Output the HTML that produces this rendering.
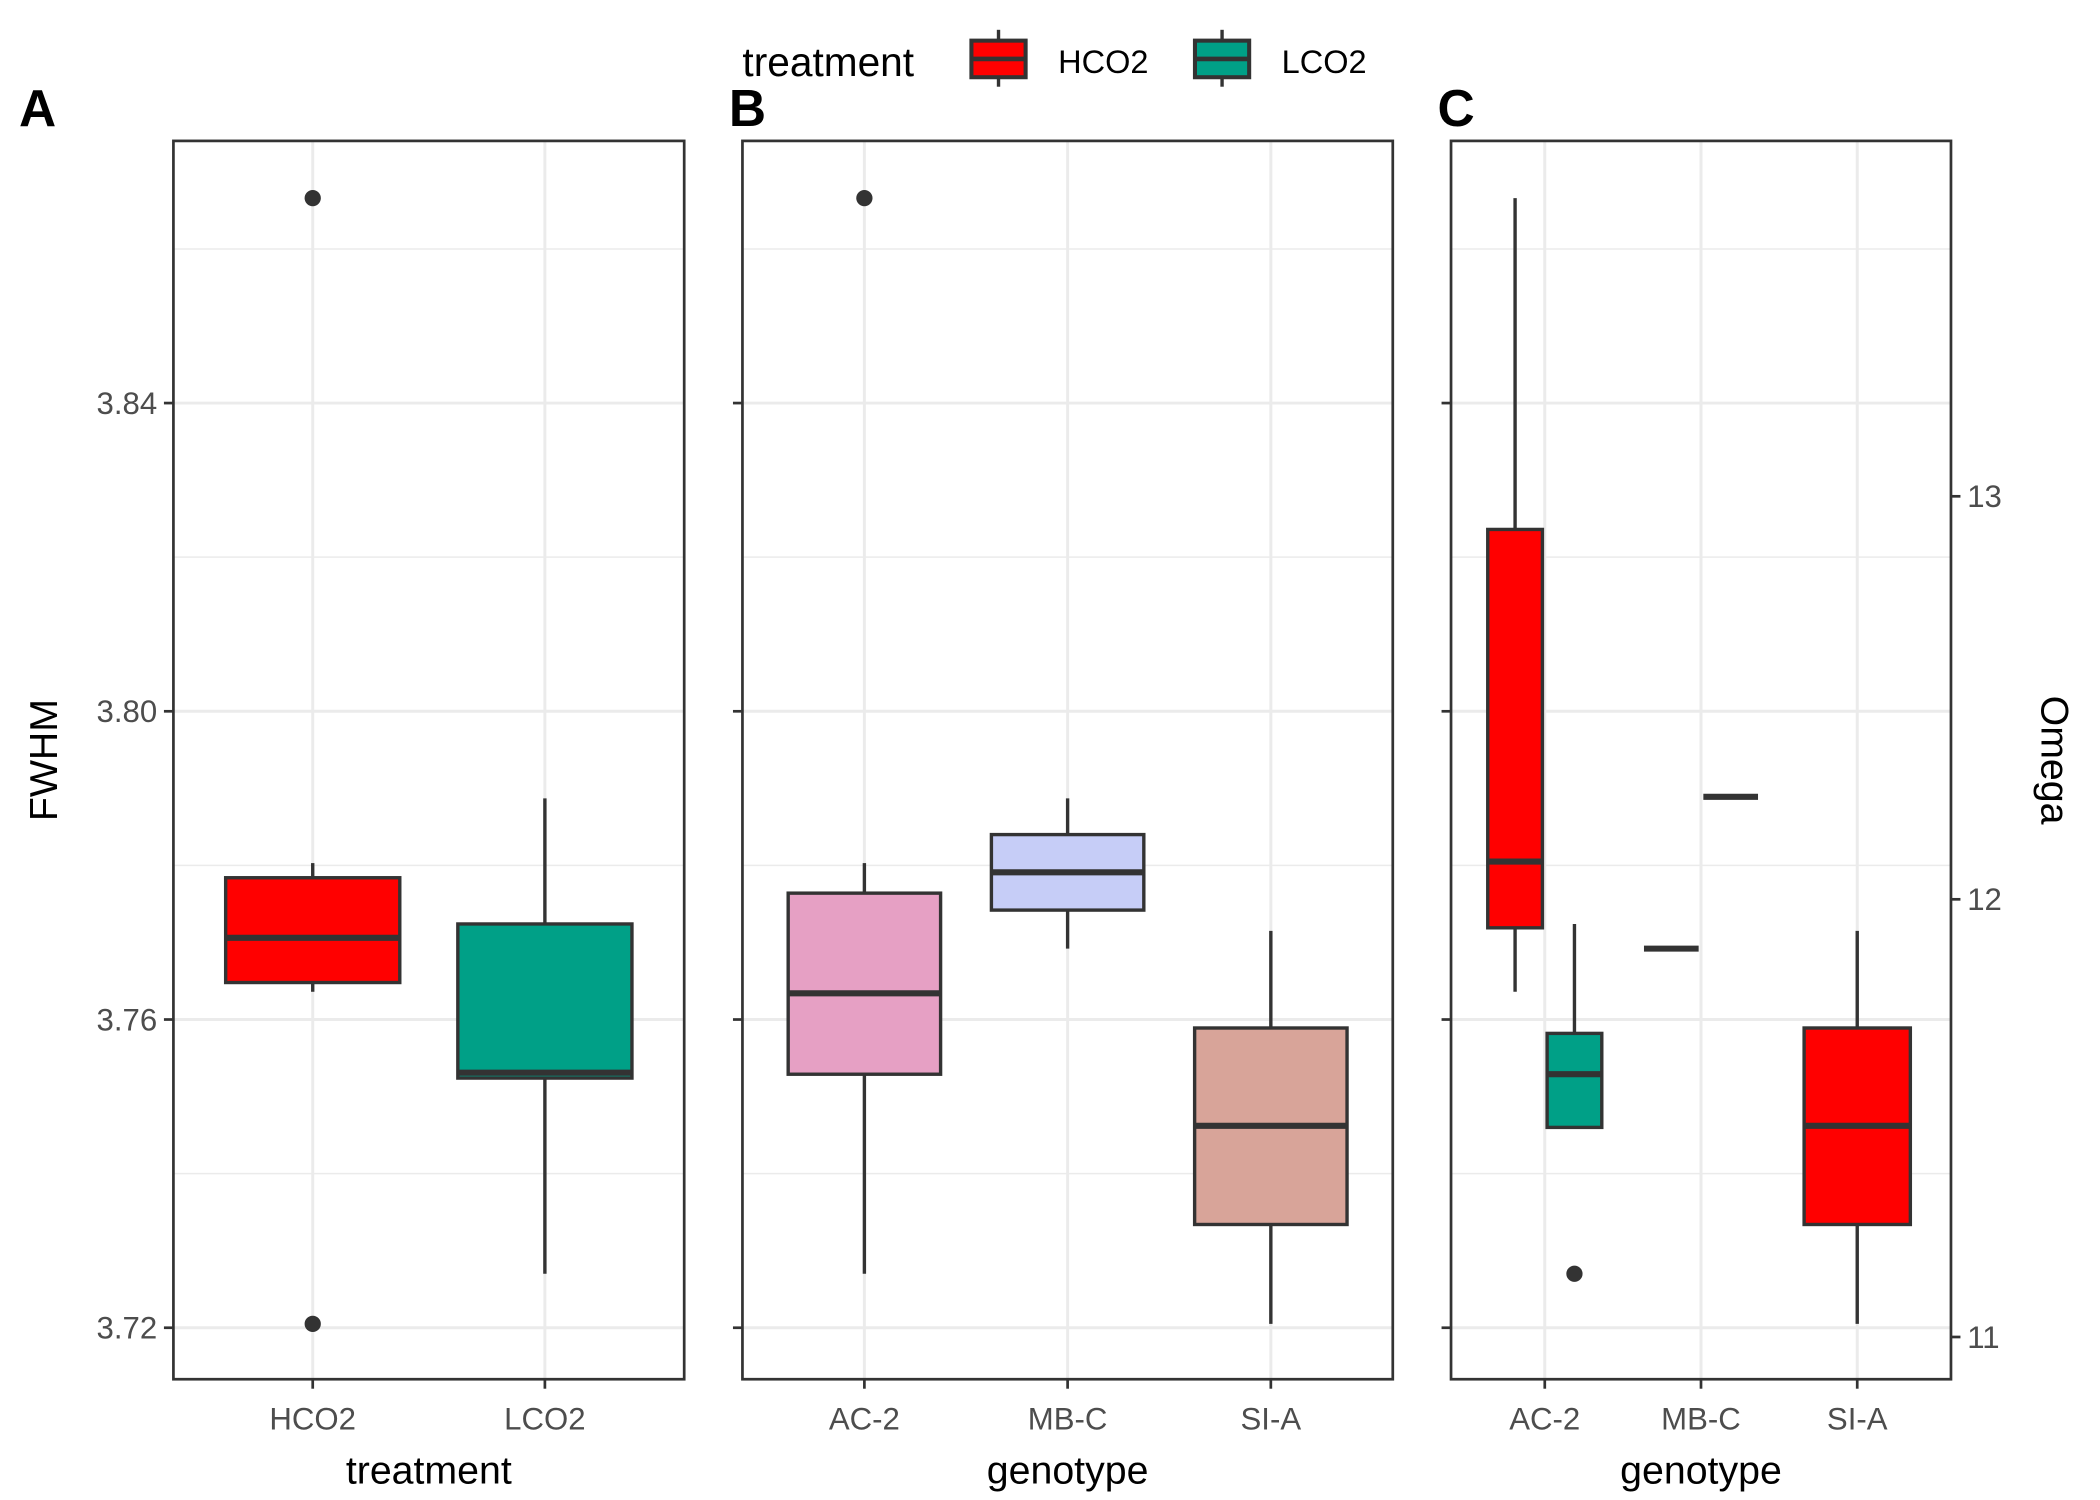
<!DOCTYPE html>
<html><head><meta charset="utf-8"><style>
html,body{margin:0;padding:0;background:#fff;}
svg{display:block;font-family:"Liberation Sans",Arial,sans-serif;}
</style></head><body>
<svg id="chart" width="2100" height="1500" viewBox="0 0 1550 1107.14" preserveAspectRatio="none" xmlns="http://www.w3.org/2000/svg"></svg>
<script>
// Data (FWHM values)
const yTicks = [3.72, 3.76, 3.80, 3.84];
const yTickLabels = ["3.72", "3.76", "3.80", "3.84"];
const yMinor = [3.74, 3.78, 3.82, 3.86];
const omegaTicks = ["13", "12", "11"];
const omegaTickFWHM = [3.8279, 3.7756, 3.7188];

const catsA = ["HCO2", "LCO2"];
const statsA = [
  {cat:0, off:0, w:0.75, fill:"#FF0000", lo:3.7636, q1:3.7648, med:3.7706, q3:3.7784, hi:3.7803, out:[3.8666, 3.7205]},
  {cat:1, off:0, w:0.75, fill:"#00A087", lo:3.7270, q1:3.7524, med:3.7531, q3:3.7724, hi:3.7887, out:[]}
];
const catsB = ["AC-2", "MB-C", "SI-A"];
const statsB = [
  {cat:0, off:0, w:0.75, fill:"#E6A0C4", lo:3.7270, q1:3.7529, med:3.7634, q3:3.7764, hi:3.7803, out:[3.8666]},
  {cat:1, off:0, w:0.75, fill:"#C6CDF7", lo:3.7692, q1:3.7742, med:3.7791, q3:3.7840, hi:3.7887, out:[]},
  {cat:2, off:0, w:0.75, fill:"#D8A499", lo:3.7205, q1:3.7334, med:3.7462, q3:3.7589, hi:3.7715, out:[]}
];
const catsC = ["AC-2", "MB-C", "SI-A"];
const statsC = [
  {cat:0, off:-0.19, w:0.35, fill:"#FF0000", lo:3.7636, q1:3.7719, med:3.7805, q3:3.8236, hi:3.8666, out:[]},
  {cat:0, off:0.19, w:0.35, fill:"#00A087", lo:3.7460, q1:3.7460, med:3.7529, q3:3.7582, hi:3.7724, out:[3.7270]},
  {cat:1, off:-0.19, w:0.35, fill:"#FF0000", lo:3.7692, q1:3.7692, med:3.7692, q3:3.7692, hi:3.7692, out:[]},
  {cat:1, off:0.19, w:0.35, fill:"#00A087", lo:3.7889, q1:3.7889, med:3.7889, q3:3.7889, hi:3.7889, out:[]},
  {cat:2, off:0, w:0.68, fill:"#FF0000", lo:3.7205, q1:3.7334, med:3.7462, q3:3.7589, hi:3.7715, out:[]}
];

const svg = document.getElementById('chart');
const NS = "http://www.w3.org/2000/svg";
function mk(tag, attrs, parent){const e=document.createElementNS(NS,tag);for(const k in attrs)e.setAttribute(k,attrs[k]);(parent||svg).appendChild(e);return e;}
function yS(v){return 525 - (v-3.80)/0.04*227.5;}
const pTop=104, pBot=1018;

function panel(name, x0, x1, cats, stats, opts){
  const g = mk('g',{});
  
  
  const n = cats.length, unit=(x1-x0)/(n-1+1.2);
  const xS = c => x0 + (0.6+c)*unit;
  mk('rect',{x:x0,y:pTop,width:x1-x0,height:pBot-pTop,fill:'#fff'},g);
  yMinor.forEach(v=>{const l=mk('line',{x1:x0,x2:x1,y1:yS(v),y2:yS(v),stroke:'#ebebeb','stroke-width':1.1},g);});
  yTicks.forEach(v=>{const l=mk('line',{x1:x0,x2:x1,y1:yS(v),y2:yS(v),stroke:'#ebebeb','stroke-width':2.2},g);});
  cats.forEach((c,i)=>{const l=mk('line',{x1:xS(i),x2:xS(i),y1:pTop,y2:pBot,stroke:'#ebebeb','stroke-width':2.2},g);});
  stats.forEach(s=>{
    const bg = mk('g',{},g);
    
    
    const cx = xS(s.cat+s.off), hw = s.w*unit/2;
    mk('line',{x1:cx,x2:cx,y1:yS(s.hi),y2:yS(s.q3),stroke:'#333','stroke-width':2.5},bg);
    mk('line',{x1:cx,x2:cx,y1:yS(s.q1),y2:yS(s.lo),stroke:'#333','stroke-width':2.5},bg);
    mk('rect',{x:cx-hw,y:yS(s.q3),width:2*hw,height:Math.max(0,yS(s.q1)-yS(s.q3)),fill:s.fill,stroke:'#333','stroke-width':2.5},bg);
    mk('line',{x1:cx-hw,x2:cx+hw,y1:yS(s.med),y2:yS(s.med),stroke:'#333','stroke-width':4.5},bg);
    s.out.forEach(o=>{const c=mk('circle',{cx:cx,cy:yS(o),r:6,fill:'#333'},bg);});
  });
  mk('rect',{x:x0,y:pTop,width:x1-x0,height:pBot-pTop,fill:'none',stroke:'#333','stroke-width':2},g);
  yTicks.forEach((v,i)=>{
    mk('line',{x1:x0-7,x2:x0,y1:yS(v),y2:yS(v),stroke:'#333','stroke-width':2},g);
    if(opts.ylabels){const t=mk('text',{x:x0-12,y:yS(v)+8,'text-anchor':'end','font-size':23,fill:'#4d4d4d'},g);t.textContent=yTickLabels[i];}
  });
  cats.forEach((c,i)=>{
    mk('line',{x1:xS(i),x2:xS(i),y1:pBot,y2:pBot+7,stroke:'#333','stroke-width':2},g);
    const t=mk('text',{x:xS(i),y:1055,'text-anchor':'middle','font-size':23,fill:'#4d4d4d'},g);t.textContent=c;
    
  });
  const xt=mk('text',{x:(x0+x1)/2,y:1095,'text-anchor':'middle','font-size':29,fill:'#000'},g);xt.textContent=opts.xtitle;
  
  const pl=mk('text',{x:opts.lx,y:93,'font-size':38,'font-weight':'bold',fill:'#000'},g);pl.textContent=opts.letter;
  
  if(opts.omega){
    omegaTicks.forEach((lab,i)=>{
      const y=yS(omegaTickFWHM[i]);
      mk('line',{x1:x1,x2:x1+7,y1:y,y2:y,stroke:'#333','stroke-width':2},g);
      const t=mk('text',{x:x1+12,y:y+8,'font-size':23,fill:'#4d4d4d'},g);t.textContent=lab;
      
    });
  }
}
panel('panel-a',128,505,catsA,statsA,{ylabels:true,xtitle:'treatment',letter:'A',lx:14});
panel('panel-b',548,1028,catsB,statsB,{ylabels:false,xtitle:'genotype',letter:'B',lx:538});
panel('panel-c',1071,1440,catsC,statsC,{ylabels:false,xtitle:'genotype',letter:'C',lx:1061,omega:true});

const yt=mk('text',{x:0,y:0,transform:'translate(42,561) rotate(-90)','text-anchor':'middle','font-size':29,fill:'#000'});yt.textContent='FWHM';

const ot=mk('text',{x:0,y:0,transform:'translate(1507,561) rotate(90)','text-anchor':'middle','font-size':29,fill:'#000'});ot.textContent='Omega';


// Legend
const lg=mk('g',{});


const ltt=mk('text',{x:548,y:56,'font-size':30,fill:'#000'},lg);ltt.textContent='treatment';

[["HCO2","#FF0000",716,781],["LCO2","#00A087",881,946]].forEach(([lab,col,kx,tx])=>{
  const e=mk('g',{},lg);
  
  
  mk('line',{x1:kx+21,x2:kx+21,y1:22,y2:64,stroke:'#333','stroke-width':2.5},e);
  mk('rect',{x:kx+1,y:30,width:40,height:27,fill:col,stroke:'#333','stroke-width':3},e);
  mk('line',{x1:kx+1,x2:kx+41,y1:43.5,y2:43.5,stroke:'#333','stroke-width':3.5},e);
  const t=mk('text',{x:tx,y:54,'font-size':24,fill:'#000'},e);t.textContent=lab;
});
</script>
</body></html>
